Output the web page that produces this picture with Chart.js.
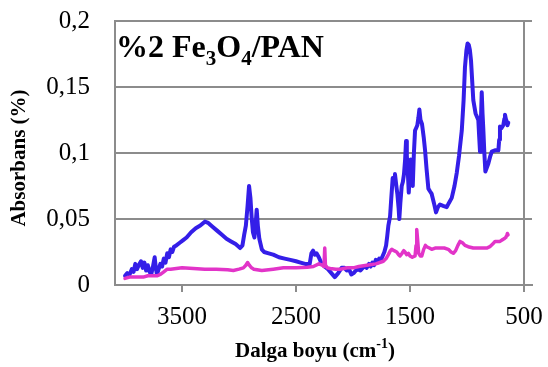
<!DOCTYPE html>
<html>
<head>
<meta charset="utf-8">
<script src="https://cdn.jsdelivr.net/npm/chart.js@4/dist/chart.umd.min.js"></script>
<style>
  html, body { margin: 0; padding: 0; background: #fff; }
  canvas { display: block; }
</style>
</head>
<body>
<canvas id="c" width="548" height="367"></canvas>
<script>
// FTIR spectra: wavenumber (cm-1) and absorbance for the two samples
const blueWave = [4000,3980,3960,3940,3925,3910,3895,3880,3860,3845,3830,3815,3800,3785,3770,3755,3740,3730,3720,3705,3690,3675,3660,3645,3630,3615,3600,3585,3570,3550,3520,3490,3460,3420,3380,3340,3300,3270,3230,3190,3150,3110,3070,3030,2990,2970,2955,2940,2925,2912,2900,2890,2878,2865,2855,2845,2835,2822,2800,2780,2740,2700,2650,2600,2550,2500,2460,2420,2380,2365,2350,2335,2320,2300,2280,2250,2220,2190,2160,2130,2100,2075,2055,2035,2015,1995,1975,1955,1935,1915,1895,1880,1860,1845,1830,1815,1800,1785,1770,1755,1740,1725,1710,1700,1690,1675,1665,1652,1640,1632,1620,1611,1600,1594,1585,1573,1563,1553,1543,1535,1528,1520,1511,1502,1494,1485,1476,1466,1456,1446,1436,1426,1418,1408,1395,1380,1368,1355,1339,1325,1310,1290,1272,1255,1237,1210,1178,1160,1134,1110,1090,1070,1046,1030,1018,1005,995,985,975,965,955,945,925,901,893,886,878,871,864,857,848,839,826,813,798,783,755,725,718,711,697,682,672,667,660,652,645,638];
const blueAbs = [0.007,0.009,0.008,0.012,0.010,0.016,0.012,0.015,0.018,0.013,0.017,0.011,0.015,0.010,0.008,0.014,0.021,0.013,0.008,0.012,0.016,0.014,0.020,0.017,0.024,0.021,0.027,0.025,0.029,0.030,0.032,0.034,0.036,0.040,0.043,0.045,0.048,0.047,0.044,0.041,0.038,0.035,0.033,0.031,0.028,0.030,0.038,0.045,0.060,0.075,0.066,0.052,0.040,0.036,0.045,0.057,0.045,0.035,0.027,0.025,0.024,0.023,0.021,0.020,0.019,0.018,0.017,0.016,0.016,0.024,0.026,0.023,0.024,0.021,0.017,0.014,0.012,0.009,0.006,0.009,0.013,0.013,0.011,0.012,0.008,0.009,0.011,0.012,0.011,0.013,0.014,0.013,0.016,0.014,0.017,0.015,0.019,0.017,0.020,0.019,0.022,0.025,0.030,0.037,0.045,0.052,0.065,0.081,0.078,0.084,0.075,0.069,0.058,0.050,0.062,0.075,0.078,0.084,0.095,0.109,0.098,0.087,0.070,0.085,0.095,0.082,0.075,0.100,0.117,0.119,0.121,0.127,0.133,0.125,0.122,0.112,0.102,0.088,0.073,0.071,0.069,0.062,0.055,0.059,0.061,0.060,0.059,0.062,0.066,0.075,0.085,0.098,0.117,0.140,0.165,0.178,0.183,0.182,0.178,0.170,0.155,0.140,0.130,0.125,0.112,0.101,0.125,0.146,0.130,0.118,0.100,0.086,0.089,0.092,0.097,0.101,0.102,0.102,0.110,0.120,0.119,0.121,0.126,0.129,0.126,0.124,0.121,0.123];

const pinkWave = [4000,3960,3920,3880,3840,3800,3760,3720,3690,3660,3630,3600,3550,3500,3400,3300,3200,3100,3050,3000,2962,2940,2925,2910,2890,2870,2800,2700,2611,2500,2400,2348,2300,2270,2255,2248,2242,2225,2200,2150,2114,2050,1997,1950,1880,1800,1734,1710,1690,1672,1660,1640,1617,1600,1588,1570,1555,1544,1530,1515,1500,1480,1456,1447,1441,1434,1424,1410,1397,1380,1365,1354,1330,1310,1280,1237,1200,1164,1140,1120,1100,1080,1061,1040,1018,990,945,900,860,827,800,775,754,730,711,695,675,660,650,646,640];
const pinkAbs = [0.005,0.006,0.006,0.006,0.006,0.007,0.007,0.007,0.008,0.010,0.012,0.012,0.0125,0.013,0.0125,0.012,0.012,0.0115,0.011,0.012,0.013,0.015,0.017,0.015,0.013,0.012,0.011,0.012,0.013,0.013,0.0135,0.014,0.016,0.015,0.014,0.028,0.015,0.013,0.0125,0.012,0.012,0.013,0.013,0.014,0.015,0.016,0.018,0.020,0.023,0.026,0.027,0.026,0.025,0.023,0.022,0.024,0.026,0.025,0.023,0.024,0.022,0.021,0.022,0.030,0.042,0.035,0.024,0.022,0.022,0.027,0.030,0.029,0.028,0.027,0.028,0.028,0.028,0.027,0.025,0.024,0.026,0.030,0.033,0.032,0.030,0.029,0.028,0.028,0.028,0.028,0.029,0.031,0.033,0.033,0.033,0.034,0.035,0.036,0.038,0.039,0.038];

const xTickValues = [3500, 2500, 1500, 500];
const yTickValues = [0, 0.05, 0.1, 0.15, 0.2];

const chartTitle = [['%2 Fe', 'n'], ['3', 'sub'], ['O', 'n'], ['4', 'sub'], ['/PAN', 'n']];
const xTitle = [['Dalga boyu (cm', 'n'], ['-1', 'sup'], [')', 'n']];
const yTitle = 'Absorbans (%)';

const GRAY = '#8c8c8c';
const SERIF = "'Liberation Serif', 'Times New Roman', serif";

const toPoints = (w, a) => w.map((x, i) => ({ x: x, y: a[i] }));

// draws a run of text pieces with sub/superscripts, starting at x on a baseline
function drawRich(ctx, parts, x, y, size) {
  let cx = x;
  for (const [txt, kind] of parts) {
    const s = kind === 'n' ? size : Math.round(size * 0.65);
    const dy = kind === 'sub' ? size * 0.25 : kind === 'sup' ? -size * 0.42 : 0;
    ctx.font = 'bold ' + s + 'px ' + SERIF;
    ctx.fillText(txt, cx, y + dy);
    cx += ctx.measureText(txt).width;
  }
  return cx - x;
}
function richWidth(ctx, parts, size) {
  let w = 0;
  for (const [txt, kind] of parts) {
    const s = kind === 'n' ? size : Math.round(size * 0.65);
    ctx.font = 'bold ' + s + 'px ' + SERIF;
    w += ctx.measureText(txt).width;
  }
  return w;
}

const textPlugin = {
  id: 'texts',
  afterDraw(chart) {
    const ctx = chart.ctx;
    ctx.save();
    ctx.fillStyle = '#000';
    ctx.textAlign = 'left';
    ctx.textBaseline = 'alphabetic';
    // chart title inside the plot
    drawRich(ctx, chartTitle, 116, 57, 32);
    // x axis title
    const w = richWidth(ctx, xTitle, 21);
    drawRich(ctx, xTitle, 315 - w / 2, 357, 21);
    // y axis title
    ctx.translate(25, 158);
    ctx.rotate(-Math.PI / 2);
    ctx.font = 'bold 21px ' + SERIF;
    ctx.textAlign = 'center';
    ctx.fillText(yTitle, 0, 0);
    ctx.restore();
  }
};

// keep the plot box fixed: the axes reserve no extra room for label overhang
const noOverhang = s => {
  s.paddingTop = 0; s.paddingBottom = 0; s.paddingLeft = 0; s.paddingRight = 0;
};

new Chart(document.getElementById('c'), {
  type: 'line',
  data: {
    datasets: [
      {
        data: toPoints(pinkWave, pinkAbs),
        borderColor: 'rgb(226,52,200)',
        borderWidth: 3.5,
        borderJoinStyle: 'round',
        borderCapStyle: 'round',
        pointRadius: 0,
        tension: 0,
        fill: false
      },
      {
        data: toPoints(blueWave, blueAbs),
        borderColor: 'rgb(52,30,232)',
        borderWidth: 4,
        borderJoinStyle: 'round',
        borderCapStyle: 'round',
        pointRadius: 0,
        tension: 0,
        fill: false
      }
    ]
  },
  options: {
    responsive: false,
    devicePixelRatio: 1,
    animation: false,
    events: [],
    layout: { padding: { top: 21, right: 16, left: 0, bottom: 0 } },
    plugins: { legend: { display: false }, tooltip: { enabled: false }, title: { display: false } },
    scales: {
      x: {
        type: 'linear',
        reverse: true,
        min: 430,
        max: 4088,
        afterBuildTicks: s => { s.ticks = xTickValues.map(v => ({ value: v })); },
        afterFit: s => { s.height = 82; noOverhang(s); },
        ticks: {
          color: '#000',
          font: { family: SERIF, size: 25 },
          padding: 10,
          maxRotation: 0,
          autoSkip: false,
          callback: v => String(v)
        },
        grid: {
          color: c => (c.tick && c.tick.value === 500 ? GRAY : 'rgba(0,0,0,0)'),
          tickColor: GRAY,
          tickLength: 7,
          lineWidth: 2
        },
        border: { display: true, color: GRAY, width: 2 }
      },
      y: {
        min: 0,
        max: 0.2,
        afterBuildTicks: s => { s.ticks = yTickValues.map(v => ({ value: v })); },
        afterFit: s => { s.width = 115; noOverhang(s); },
        ticks: {
          color: '#000',
          font: { family: SERIF, size: 25 },
          padding: 25,
          callback: v => (v === 0 ? '0' : String(Math.round(v * 100) / 100).replace('.', ','))
        },
        grid: { color: GRAY, lineWidth: 2, drawTicks: false },
        border: { display: true, color: GRAY, width: 2 }
      }
    }
  },
  plugins: [textPlugin]
});
</script>
</body>
</html>
